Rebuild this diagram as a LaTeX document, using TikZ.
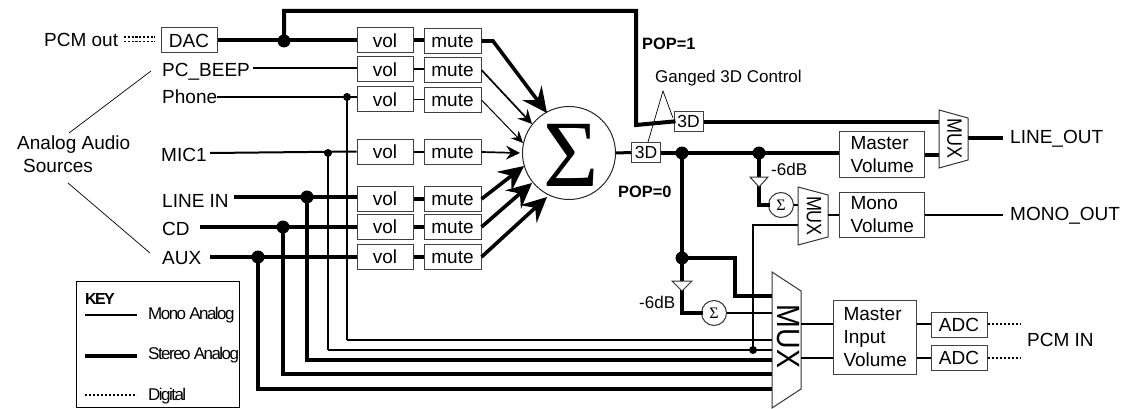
\documentclass[tikz,border=0pt]{standalone}
\usepackage{fontspec}
\setmainfont{Liberation Sans}
\newfontfamily\sigfont{Liberation Serif}
\newfontface\keyfont[LetterSpace=-9]{Liberation Sans}
\newfontface\keybold[LetterSpace=-10]{Liberation Sans Bold}
\usetikzlibrary{arrows.meta}
\tikzset{
  every node/.style={font=\fontsize{19}{23}\selectfont, inner sep=0pt},
  blockbox/.style={draw=black!75, line width=1pt, fill=white, align=left},
  volbox/.style={blockbox, minimum width=56, minimum height=25},
  mutebox/.style={blockbox, minimum width=57, minimum height=25},
  dbox/.style={blockbox, minimum width=29, minimum height=20, font=\fontsize{17.5}{20}\selectfont},
  adcbox/.style={blockbox, minimum width=56, minimum height=25},
  lbl/.style={anchor=west},
  small/.style={font=\fontsize{17}{20}\selectfont},
  popl/.style={anchor=west, font=\fontsize{16.4}{20}\selectfont\bfseries},
  keyl/.style={anchor=west, font=\fontsize{17}{20}\selectfont\keyfont},
  stereo/.style={line width=4pt, line join=miter},
  mono/.style={line width=2pt},
  thinl/.style={line width=1.2pt},
  hair/.style={line width=0.7pt},
  digital/.style={line width=1.6pt, dash pattern=on 2.2pt off 1.8pt},
  dotS/.style={circle, fill=black, minimum size=13},
  dotM/.style={circle, fill=black, minimum size=8},
  smallsum/.style={circle, draw=black!80, line width=1pt, fill=white, minimum size=25},
  muxshape/.style={draw=black!80, line width=1pt, fill=white},
  buf/.style={draw=black!80, line width=1pt, fill=white},
  arrS/.style={-{Stealth[length=25pt,width=24pt,inset=9pt]}, line width=3.6pt},
  arrN/.style={-{Stealth[length=14pt,width=14pt,inset=5pt]}, line width=1.7pt},
  arrT/.style={-{Stealth[length=12pt,width=11pt,inset=4pt]}, line width=1pt},
}
\begin{document}
\begin{tikzpicture}[x=1pt,y=-1pt]
\useasboundingbox (0,0) rectangle (1123,409);

% source labels
\node[lbl] (pcmout) at (44,40) {PCM out};
\node[lbl] (beep) at (162,72) {PC\_BEEP};
\node[lbl] (phone) at (162,97) {Phone};
\node[lbl] (mic) at (161,155) {MIC1};
\node[lbl] (linein) at (162,201) {LINE IN};
\node[lbl] (cd) at (162,229) {CD};
\node[lbl] (aux) at (162,258) {AUX};
\node[anchor=west, align=left] (analog) at (17,154.5) {Analog Audio\\[0pt]\hspace*{6pt}Sources};
\coordinate (a1) at (69,133); \coordinate (a2) at (151,71);
\coordinate (a3) at (68,183); \coordinate (a4) at (150,253);
\draw[hair] (a1) -- (a2);
\draw[hair] (a3) -- (a4);

% channel strips
\node[blockbox, minimum width=56, minimum height=25] (dac) at (189,40.5) {DAC};
\foreach \n/\y in {1/40.5,2/69.5,3/99.5,4/151.5,5/198.5,6/226.5,7/256.5}{
  \node[volbox] (vol\n) at (385,\y) {vol};
  \node[mutebox] (mute\n) at (452.5,\y+0.5) {mute};
}
\node[circle, draw=black!85, line width=1pt, minimum size=93, fill=white] (sum) at (569,153) {};
\node[font=\fontsize{95}{95}\selectfont\sigfont] (sumg) at (571,155) {Σ};

% PCM out digital
\coordinate (dd1) at (124,37); \coordinate (dd2) at (155,37);
\coordinate (dd3) at (124,41.5); \coordinate (dd4) at (155,41.5);
\draw[line width=1.5pt, dash pattern=on 2.2pt off 1.6pt] (dd1) -- (dd2);
\draw[line width=1.5pt, dash pattern=on 2.2pt off 1.6pt] (dd3) -- (dd4);

% top stereo feed
\coordinate (jdac) at (284,41);
\coordinate (top1) at (284,11);
\coordinate (top2) at (636,11);
\coordinate (top3) at (636,125);
\node[dbox] (d3b) at (688.5,121.5) {3D};
\node[dbox] (d3a) at (646,152.5) {3D};

% trapezoid mux positions
\coordinate (mA1) at (939,110); \coordinate (mA2) at (968,118);
\coordinate (mA3) at (968,160); \coordinate (mA4) at (939,168);
\coordinate (mB1) at (798,187); \coordinate (mB2) at (828,195);
\coordinate (mB3) at (828,237); \coordinate (mB4) at (798,245);
\coordinate (mC1) at (772,272); \coordinate (mC2) at (801,291);
\coordinate (mC3) at (801,389); \coordinate (mC4) at (772,408);

\draw[stereo] (dac.east) -- (vol1.west);
\draw[stereo, line cap=rect] (jdac) -- (top1) -- (top2) -- (top3) -- (d3b.west);
\draw[stereo] (d3b.east) -- (d3b.east -| mA1);

% sources to vol
\draw[mono] (beep.east |- vol2.west) ++(3,-1.5) coordinate (bs) -- (bs -| vol2.west);
\draw[mono] (phone.east) -- (vol3.west |- phone.east);
\coordinate (smic) at (210,153);
\draw[mono] (smic) -- (vol4.west);
\coordinate (sline) at (234,197);
\coordinate (scd) at (200,227);
\coordinate (saux) at (210,257);
\draw[stereo] (sline) -- (sline -| vol5.west);
\draw[stereo] (scd) -- (scd -| vol6.west);
\draw[stereo] (saux) -- (saux -| vol7.west);

% vol to mute
\draw[stereo] (vol1.east) -- (mute1.west |- vol1.east);
\draw[mono] (vol2.east) -- (mute2.west |- vol2.east);
\draw[thinl] (vol3.east) -- (mute3.west |- vol3.east);
\draw[mono] (vol4.east) -- (mute4.west |- vol4.east);
\draw[stereo] (vol5.east) -- (mute5.west |- vol5.east);
\draw[stereo] (vol6.east) -- (mute6.west |- vol6.east);
\draw[stereo] (vol7.east) -- (mute7.west |- vol7.east);

% mute to sum
\coordinate (t1) at (547,113); \coordinate (bend1) at (493,41);
\coordinate (t2) at (532,124); \coordinate (t3) at (523,143);
\coordinate (t4) at (520,153); \coordinate (t5) at (524,166);
\coordinate (t6) at (532,183); \coordinate (t7) at (547,197);
\draw[arrS] (mute1.east) -- (bend1) -- (t1);
\draw[arrN] (mute2.east) -- (t2);
\draw[arrT] (mute3.east) -- (t3);
\draw[arrN] (mute4.east) -- (t4);
\draw[arrS] (mute5.east) -- (t5);
\draw[arrS] (mute6.east) -- (t6);
\draw[arrS] (mute7.east) -- (t7);

% branches to big mux
\coordinate (jph) at (347,97);
\coordinate (jmic) at (328,153);
\coordinate (jline) at (307,197);
\coordinate (jcd) at (283,227);
\coordinate (jaux) at (258,257);
\coordinate (bph) at (347,340);
\coordinate (bmic) at (328,350);
\coordinate (bline) at (307,360);
\coordinate (bcd) at (283,374);
\coordinate (baux) at (258,389);
\draw[line width=1.3pt] (jph) -- (bph);
\draw[mono] (bph) -- (bph -| mC1);
\draw[line width=1.6pt] (jmic) -- (bmic);
\draw[line width=1.1pt] (bmic) -- (bmic -| mC1);
\draw[stereo, line cap=rect] (jline) -- (bline) -- (bline -| mC1);
\draw[stereo, line cap=rect] (jcd) -- (bcd) -- (bcd -| mC1);
\draw[stereo, line cap=rect] (jaux) -- (baux) -- (baux -| mC1);

% output section
\node[blockbox, minimum width=83, minimum height=46, anchor=north west, inner xsep=11pt] (mastervol) at (839,131) {Master\\Volume};
\node[blockbox, minimum width=83, minimum height=45, anchor=north west, inner xsep=11pt] (monovol) at (839,192) {Mono\\Volume};
\node[blockbox, minimum width=81, minimum height=74, anchor=north west, inner xsep=10pt] (inputvol) at (833,300) {Master\\Input\\Volume};
\node[adcbox] (adc1) at (959,325) {ADC};
\node[adcbox] (adc2) at (959,357.5) {ADC};

\draw[line width=3pt] (sum.east) -- (d3a.west);
\coordinate (j3d) at (682,153);
\coordinate (j3e) at (759,153);
\coordinate (j6a) at (682,258);
\draw[stereo] (d3a.east) -- (mastervol.west |- d3a.east);
\draw[stereo] (j3d) -- (j6a);
\draw[line width=3.2pt, line cap=rect] (j6a) -- (735,258) coordinate (p1) -- (735,296) coordinate (p2) -- (p2 -| mC1);
\draw[stereo] (mastervol.east) -- (mastervol.east -| mA1);

% -6dB buffers and summers
\node[smallsum] (sumu) at (781,205) {\fontsize{16}{16}\selectfont\sigfont Σ};
\node[smallsum] (suml) at (714,313) {\fontsize{16}{16}\selectfont\sigfont Σ};
\coordinate (bu1) at (750,177); \coordinate (bu2) at (768,177); \coordinate (bu3) at (759,187);
\coordinate (bl1) at (672,281); \coordinate (bl2) at (692,281); \coordinate (bl3) at (682,291);
\draw[stereo] (j3e) -- (bu1 -| j3e);
\draw[stereo] (j6a) -- (bl1 -| j6a);
\draw[line width=3.2pt, line cap=rect] (bu3) -- (bu3 |- sumu.west) -- (sumu.west);
\draw[line width=3.2pt, line cap=rect] (bl3) -- (bl3 |- suml.west) -- (suml.west);
\draw[buf] (bu1) -- (bu2) -- (bu3) -- cycle;
\draw[buf] (bl1) -- (bl2) -- (bl3) -- cycle;
\draw[mono] (sumu.east) -- (sumu.east -| mB1);
\draw[mono] (suml.east) -- (suml.east -| mC1);

% thin feedback from mono mux
\coordinate (jfb) at (753,350);
\coordinate (fb1) at (753,225);
\draw[line width=1.3pt] (jfb) -- (fb1) -- (fb1 -| mB1);

% muxes
\draw[muxshape] (mA1) -- (mA2) -- (mA3) -- (mA4) -- cycle;
\draw[muxshape] (mB1) -- (mB2) -- (mB3) -- (mB4) -- cycle;
\draw[muxshape] (mC1) -- (mC2) -- (mC3) -- (mC4) -- cycle;
\node[rotate=-90, font=\fontsize{18}{18}\selectfont] (muxa) at (954.5,138.5) {\scalebox{1}[1.16]{MUX}};
\node[rotate=-90, font=\fontsize{18}{18}\selectfont] (muxb) at (814,216) {\scalebox{1}[1.16]{MUX}};
\node[rotate=-90, font=\fontsize{28.5}{29}\selectfont] (muxc) at (788.5,336.5) {\scalebox{1}[1.13]{MUX}};

% mux outputs
\coordinate (ml) at (968,138);
\coordinate (outl) at (1003,138);
\draw[stereo] (ml) -- (outl);
\coordinate (mm) at (828,215);
\draw[mono] (mm) -- (mm -| monovol.west);
\coordinate (outm) at (1003,215);
\draw[mono] (monovol.east |- mm) -- (outm);
\coordinate (m1) at (801,324); \coordinate (m2) at (801,358);
\draw[mono] (m1) -- (m1 -| inputvol.west);
\draw[mono] (m2) -- (m2 -| inputvol.west);
\draw[mono] (inputvol.east |- m1) -- (m1 -| adc1.west);
\draw[mono] (inputvol.east |- m2) -- (m2 -| adc2.west);
\coordinate (dg1) at (1020,324); \coordinate (dg2) at (1020,358);
\draw[digital] (dg1 -| adc1.east) -- (dg1);
\draw[digital] (dg2 -| adc2.east) -- (dg2);

% junction dots
\node[dotS] (n1) at (jdac) {};
\node[dotM] (n2) at (jph) {};
\node[dotM] (n3) at (jmic) {};
\node[dotS] (n4) at (jline) {};
\node[dotS] (n5) at (jcd) {};
\node[dotS] (n6) at (jaux) {};
\node[dotS] (n7) at (j3d) {};
\node[dotS] (n8) at (j3e) {};
\node[dotS] (n9) at (j6a) {};
\node[dotM] (n10) at (jfb) {};

% labels
\node[lbl] (lineout) at (1010,139) {LINE\_OUT};
\node[lbl] (monoout) at (1010,216) {MONO\_OUT};
\node[lbl] (pcmin) at (1027,340) {PCM IN};
\node[popl] (pop1) at (642,44) {POP=1};
\node[popl] (pop0) at (618,192) {POP=0};
\node[small, anchor=west] (gang) at (655,78) {Ganged 3D Control};
\coordinate (ga) at (663,91);
\coordinate (g1) at (648,142);
\coordinate (g2) at (673,118);
\draw[hair] (g1) -- (ga) -- (g2);
\node[small, anchor=west] (db1) at (771,169) {-6dB};
\node[small, anchor=west] (db2) at (639,302) {-6dB};

% key
\node[draw=black, line width=1pt, minimum width=163, minimum height=126, anchor=north west] (keybox) at (76,281) {};
\node[anchor=west, font=\fontsize{16}{20}\selectfont\keybold] (keyt) at (85,299) {KEY};
\node[keyl] (k1) at (148,315) {Mono Analog};
\node[keyl] (k2) at (148,355) {Stereo Analog};
\node[keyl] (k3) at (148,396) {Digital};
\coordinate (k1a) at (85,315); \coordinate (k2a) at (85,356); \coordinate (k3a) at (85,395);
\coordinate (k1b) at (137,315); \coordinate (k2b) at (137,356); \coordinate (k3b) at (137,395);
\draw[mono] (k1a) -- (k1b);
\draw[line width=4.5pt] (k2a) -- (k2b);
\draw[digital] (k3a) -- (k3b);
\end{tikzpicture}
\end{document}
